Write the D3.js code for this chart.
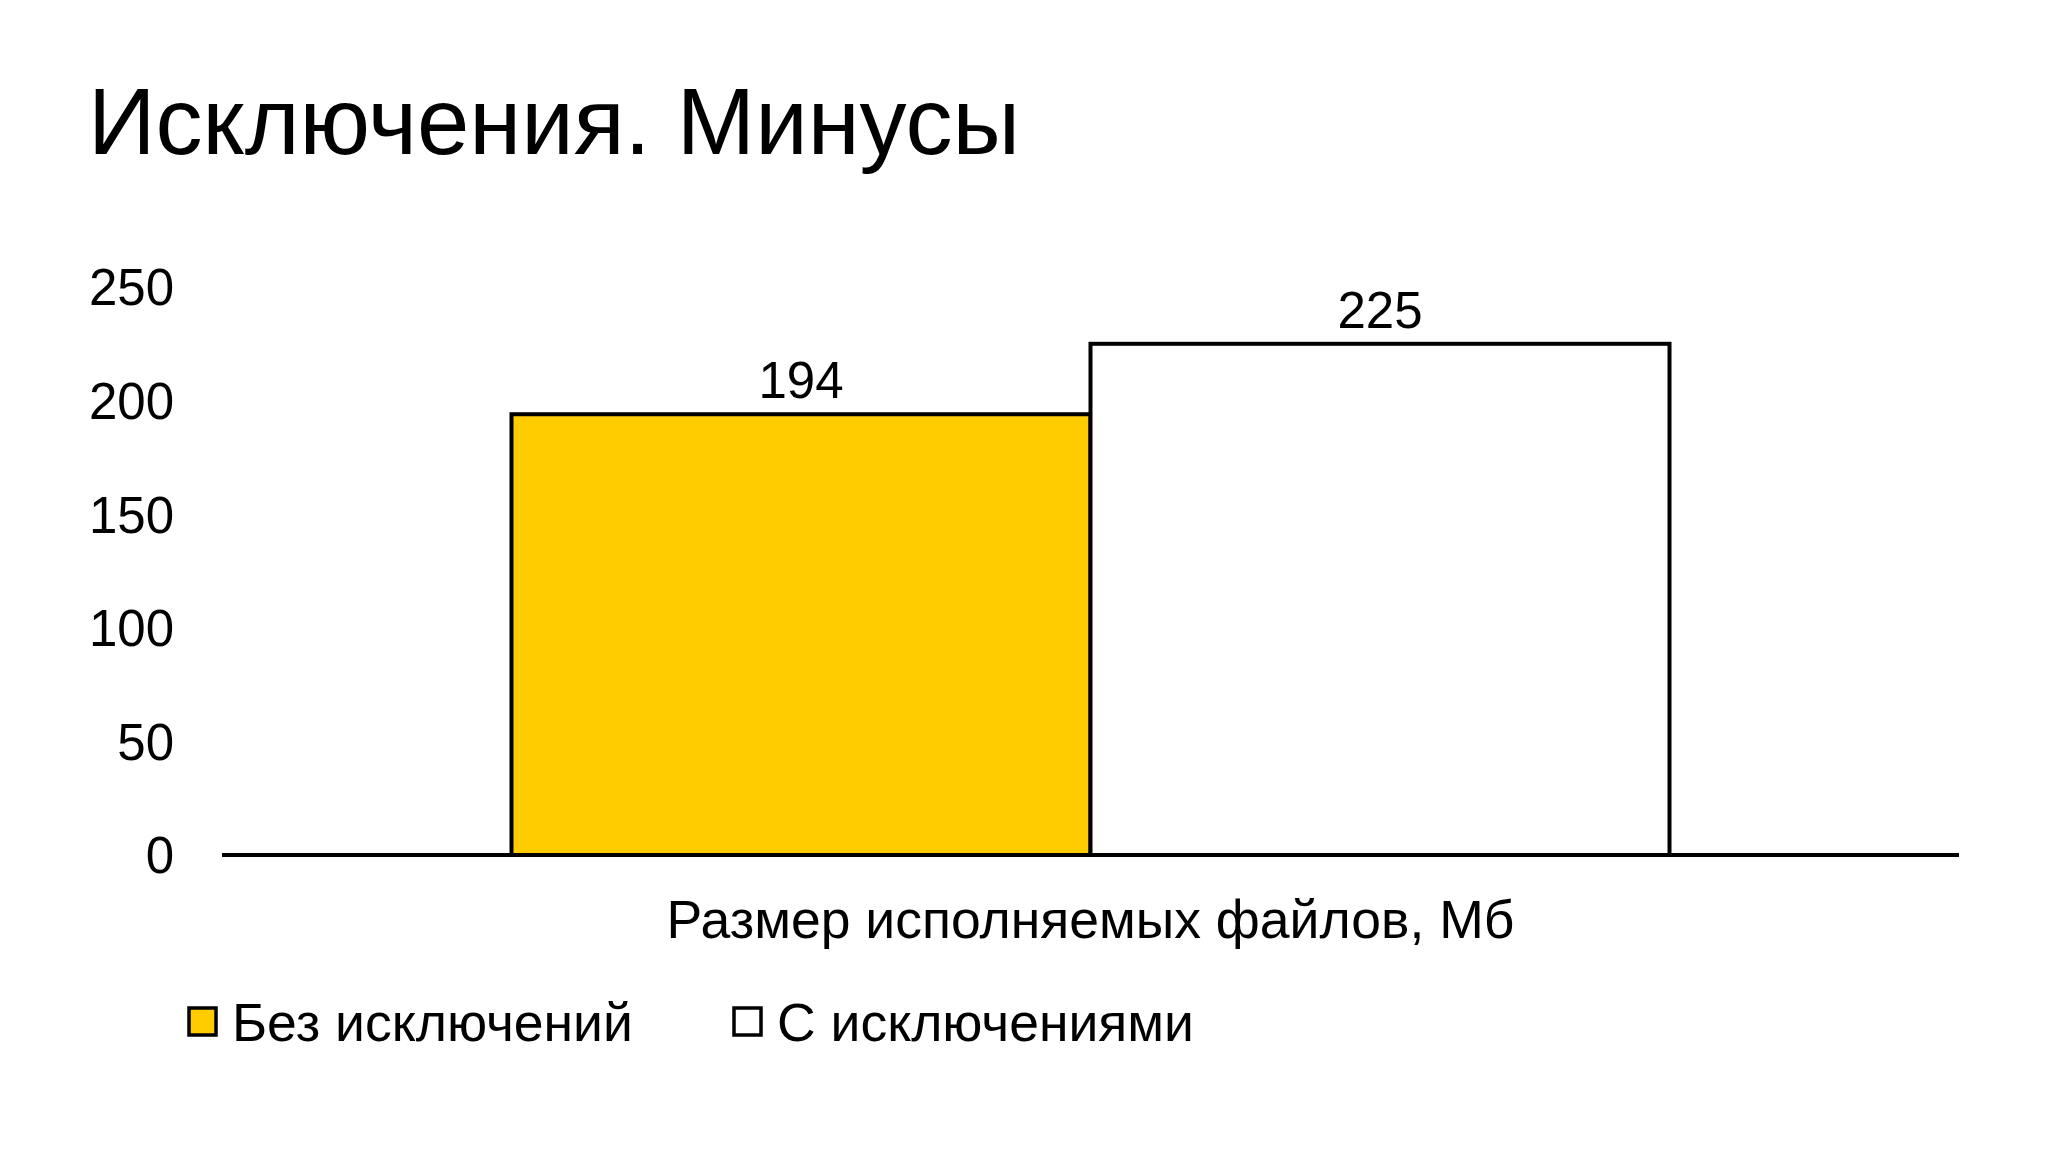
<!DOCTYPE html>
<html lang="ru">
<head>
<meta charset="UTF-8">
<title>Исключения. Минусы</title>
<script src="https://cdn.jsdelivr.net/npm/d3@7"></script>
<style>
  html, body { margin: 0; padding: 0; background: #fff; }
  svg text { font-family: "Liberation Sans", Arial, sans-serif; fill: #000; }
</style>
</head>
<body>
<div id="chart"></div>
<script>
// данные
const categories = ["Размер исполняемых файлов, Мб"];
const seriesNames = ["Без исключений", "С исключениями"];
const seriesValues = [194, 225];
const seriesColors = ["#FFCC00", "#FFFFFF"];
const yTicks = [0, 50, 100, 150, 200, 250];

const W = 2048, H = 1152;
const margin = { top: 287, right: 89, bottom: 297, left: 222 };
const width = W - margin.left - margin.right;
const height = H - margin.top - margin.bottom;

const svg = d3.select("#chart").append("svg")
  .attr("width", W).attr("height", H);

// заголовок
svg.append("text")
  .attr("x", 88).attr("y", 154)
  .style("font-size", "94px")
  .text("Исключения. Минусы");

const g = svg.append("g")
  .attr("transform", `translate(${margin.left},${margin.top})`);

const x0 = d3.scaleBand().domain(categories).range([0, width]).paddingInner(0).paddingOuter(0.25);
const x1 = d3.scaleBand().domain(seriesNames).range([0, x0.bandwidth()]);
const y = d3.scaleLinear().domain([0, 250]).range([height, 0]);

// ось Y (только подписи)
const yAxis = g.append("g")
  .call(d3.axisLeft(y).tickValues(yTicks).tickSize(0).tickPadding(48));
yAxis.select(".domain").remove();
yAxis.selectAll("text").style("font-size", "51px").attr("dy", "0.35em");

// столбцы
const data = seriesNames.map((s, i) => ({ name: s, value: seriesValues[i], color: seriesColors[i] }));

const grp = g.selectAll(".grp").data(categories).enter().append("g")
  .attr("transform", d => `translate(${x0(d)},0)`);

grp.selectAll("rect").data(data).enter().append("rect")
  .attr("x", d => x1(d.name))
  .attr("y", d => y(d.value))
  .attr("width", x1.bandwidth())
  .attr("height", d => height - y(d.value))
  .attr("fill", d => d.color)
  .attr("stroke", "#000")
  .attr("stroke-width", 4);

grp.selectAll(".lbl").data(data).enter().append("text")
  .attr("class", "lbl")
  .attr("x", d => x1(d.name) + x1.bandwidth() / 2)
  .attr("y", d => y(d.value) - 34)
  .attr("dy", "0.35em")
  .attr("text-anchor", "middle")
  .style("font-size", "51px")
  .text(d => d.value);

// ось X
const xAxis = g.append("g")
  .attr("transform", `translate(0,${height})`)
  .call(d3.axisBottom(x0).tickSize(0).tickPadding(48));
xAxis.select(".domain").attr("stroke", "#000").attr("stroke-width", 4)
  .attr("d", `M0,0H${width}`);
xAxis.selectAll("text").style("font-size", "53.5px").attr("dy", "0.35em")
  .attr("transform", "translate(0,16)");

// легенда
const legendX = [189, 734];
const legend = svg.selectAll(".leg").data(data).enter().append("g")
  .attr("transform", (d, i) => `translate(${legendX[i]},1008)`);
legend.append("rect")
  .attr("width", 27).attr("height", 27)
  .attr("fill", d => d.color)
  .attr("stroke", "#000").attr("stroke-width", 3.5);
legend.append("text")
  .attr("x", 43).attr("y", 14).attr("dy", "0.35em")
  .style("font-size", "53.5px")
  .text(d => d.name);
</script>
</body>
</html>
